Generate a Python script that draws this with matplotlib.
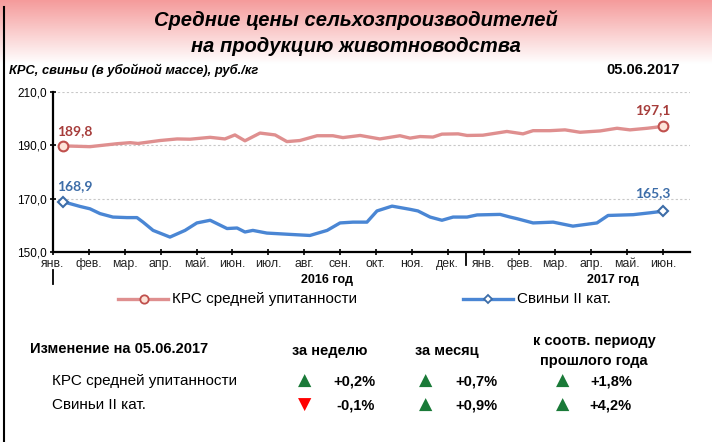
import numpy as np
import matplotlib.pyplot as plt
from matplotlib.lines import Line2D

# positions in months: 0 = янв. 2016 ... 17 = июн. 2017
krs_x = [0.27, 1.03, 1.78, 2.15, 2.37, 2.98, 3.46, 3.82, 4.38, 4.79, 5.07, 5.35, 5.77,
         6.19, 6.52, 6.88, 7.36, 7.80, 8.08, 8.56, 9.11, 9.67, 9.95, 10.23, 10.59,
         10.84, 11.29, 11.54, 11.98, 12.65, 13.10, 13.38, 13.85, 14.27, 14.69, 15.25,
         15.72, 16.08, 16.56, 17.0]
krs_y = [189.8, 189.5, 190.6, 191.0, 190.7, 191.8, 192.4, 192.3, 193.0, 192.4, 193.9,
         191.7, 194.6, 193.9, 191.4, 191.8, 193.6, 193.6, 192.9, 193.7, 192.4, 193.6,
         192.7, 193.3, 193.1, 194.2, 194.3, 193.7, 193.8, 195.2, 194.3, 195.5, 195.5,
         195.8, 194.9, 195.4, 196.4, 195.8, 196.4, 197.1]

pig_x = [0.27, 0.75, 1.03, 1.31, 1.67, 2.06, 2.34, 2.51, 2.79, 3.26, 3.68, 4.01, 4.38,
         4.85, 5.13, 5.35, 5.57, 5.96, 6.61, 7.16, 7.64, 8.00, 8.36, 8.75, 9.03, 9.45,
         9.95, 10.17, 10.51, 10.84, 11.15, 11.54, 11.82, 12.46, 12.74, 12.93, 13.38,
         13.94, 14.49, 15.16, 15.47, 16.17, 16.64, 17.0]
pig_y = [168.9, 167.1, 166.2, 164.4, 163.1, 162.9, 162.9, 161.2, 158.1, 155.6, 158.1,
         160.9, 161.9, 158.8, 159.0, 157.5, 158.1, 157.1, 156.6, 156.2, 158.1, 160.9,
         161.2, 161.2, 165.4, 167.2, 166.0, 165.4, 163.1, 161.9, 163.1, 163.1, 163.9,
         164.1, 163.1, 162.5, 160.9, 161.2, 159.7, 160.9, 163.7, 164.0, 164.7, 165.3]

month_labels = ["янв.", "фев.", "мар.", "апр.", "май.", "июн.", "июл.", "авг.", "сен.",
                "окт.", "ноя.", "дек.", "янв.", "фев.", "мар.", "апр.", "май.", "июн."]
y_ticks = [150, 170, 190, 210]

series_names = ["КРС средней упитанности", "Свиньи II кат."]
change_cols = ["за неделю", "за месяц", "к соотв. периоду\nпрошлого года"]
changes = [[0.2, 0.7, 1.8],
           [-0.1, 0.9, 4.2]]

W, H = 712, 442
red_line = '#df8f8f'
red_dark = '#a63c3a'
blue_line = '#4a86d4'
blue_dark = '#3d6da8'

plt.rcParams['font.family'] = ['Liberation Sans', 'DejaVu Sans']

fig = plt.figure(figsize=(W / 100, H / 100), dpi=100)


def fx(x):
    return x / W


def fy(y):
    return 1 - y / H


# pink gradient band behind the title
bg = fig.add_axes([0, fy(64), 1, 64 / H], zorder=0)
grad = np.linspace(0, 1, 100)[:, None]
c_top = np.array([245, 155, 155]) / 255
c_bot = np.array([1.0, 1.0, 1.0])
img = c_top[None, None, :] * (1 - grad[:, :, None]) + c_bot[None, None, :] * grad[:, :, None]
bg.imshow(img, aspect='auto', extent=[0, 1, 0, 1])
bg.axis('off')

fig.add_artist(Line2D([fx(4), fx(4)], [fy(7), 0], color='black', lw=1.5))

fig.text(0.5, fy(20), "Средние цены сельхозпроизводителей", ha='center', va='center',
         fontsize=14.5, fontweight='bold', fontstyle='italic')
fig.text(0.5, fy(46), "на продукцию животноводства", ha='center', va='center',
         fontsize=14.5, fontweight='bold', fontstyle='italic')
fig.text(fx(9), fy(70), "КРС, свиньи (в убойной массе), руб./кг", ha='left', va='center',
         fontsize=9.3, fontweight='bold', fontstyle='italic')
fig.text(fx(680), fy(70), "05.06.2017", ha='right', va='center', fontsize=10.5,
         fontweight='bold')

# chart
ax = fig.add_axes([fx(53), fy(252), fx(690) - fx(53), (252 - 92) / H], zorder=2)
ax.set_xlim(0, (690 - 53) / 35.88)
ax.set_ylim(150, 210)
ax.patch.set_alpha(0)

ax.plot(krs_x, krs_y, color=red_line, lw=2.4, solid_capstyle='round', zorder=3)
ax.plot(pig_x, pig_y, color=blue_line, lw=2.4, solid_capstyle='round', zorder=3)
for xs, ys, mk, ec, fc in [(krs_x, krs_y, 'o', '#c0504d', '#fde3d8'),
                           (pig_x, pig_y, 'D', '#3d6da8', 'white')]:
    ax.plot([xs[0], xs[-1]], [ys[0], ys[-1]], ls='none', marker=mk, ms=7 if mk == 'o' else 5.5,
            mec=ec, mfc=fc, mew=1.5, zorder=4)

lbl = dict(fontsize=10, fontweight='bold', family=['Lato', 'DejaVu Sans'],
           ha='center', va='center', textcoords='offset pixels')
ax.annotate("189,8", (krs_x[0], krs_y[0]), xytext=(12, 15), color=red_dark, **lbl)
ax.annotate("197,1", (krs_x[-1], krs_y[-1]), xytext=(-10, 16), color=red_dark, **lbl)
ax.annotate("168,9", (pig_x[0], pig_y[0]), xytext=(12, 16), color=blue_dark, **lbl)
ax.annotate("165,3", (pig_x[-1], pig_y[-1]), xytext=(-10, 18), color=blue_dark, **lbl)

ax.set_yticks(y_ticks)
ax.set_yticklabels([f"{v:.1f}".replace('.', ',') for v in y_ticks], fontsize=8.5)
ax.set_xticks(range(len(month_labels)))
ax.set_xticklabels(month_labels, fontsize=8.8, color='#222222')
ax.tick_params(axis='both', direction='inout', length=5, width=1.2, pad=2)
for g in y_ticks[1:]:
    ax.axhline(g, color='#c8c8c8', lw=0.8, ls=(0, (2, 2)), zorder=1)
for s in ['top', 'right']:
    ax.spines[s].set_visible(False)
for s in ['left', 'bottom']:
    ax.spines[s].set_linewidth(1.6)

# year separators and labels
trans = ax.get_xaxis_transform()
ax.add_artist(Line2D([0, 0], [-(270 - 252) / 160, -(284 - 252) / 160],
                     transform=trans, color='black', lw=1.3, clip_on=False))
ax.add_artist(Line2D([11.5, 11.5], [0, -(265 - 252) / 160],
                     transform=trans, color='black', lw=1.3, clip_on=False))
ax.text(7.65, -(280 - 252) / 160, "2016 год", transform=trans, ha='center', va='center',
        fontsize=9, fontweight='bold')
ax.text(15.6, -(280 - 252) / 160, "2017 год", transform=trans, ha='center', va='center',
        fontsize=9, fontweight='bold')

# legend
for (x0, x1, xm), mk, ec, fc, lc, name in [((118, 168, 144), 'o', '#c0504d', '#fde3d8', red_line, series_names[0]),
                                          ((463, 513, 488), 'D', '#3d6da8', 'white', blue_line, series_names[1])]:
    fig.add_artist(Line2D([fx(x0), fx(x1)], [fy(299), fy(299)], color=lc, lw=2.4))
    fig.add_artist(Line2D([fx(xm)], [fy(299)], marker=mk, ms=6 if mk == 'o' else 4.5,
                          mec=ec, mfc=fc, mew=1.3))
    fig.text(fx(x1 + 4), fy(299), name, ha='left', va='center', fontsize=11)

# change table
fig.text(fx(30), fy(349), "Изменение на 05.06.2017", ha='left', va='center',
         fontsize=10.5, fontweight='bold')
col_centers = [330, 447, 594]
col_arrow = [305, 426, 563]
col_right = [375, 498, 632]
fig.text(fx(col_centers[0]), fy(351), change_cols[0], ha='center', va='center',
         fontsize=10.5, fontweight='bold')
fig.text(fx(col_centers[1]), fy(351), change_cols[1], ha='center', va='center',
         fontsize=10.5, fontweight='bold')
fig.text(fx(col_centers[2]), fy(351), change_cols[2], ha='center', va='center',
         fontsize=10.5, fontweight='bold', linespacing=1.6)
row_y = [381, 405]
for i, name in enumerate(series_names):
    fig.text(fx(52), fy(row_y[i]), name, ha='left', va='center', fontsize=11)
    for j, v in enumerate(changes[i]):
        up = v >= 0
        fig.text(fx(col_arrow[j]), fy(row_y[i]), "▲" if up else "▼", ha='center', va='center',
                 fontsize=12.5, color='#1a7a38' if up else '#ff0000', family='DejaVu Sans')
        fig.text(fx(col_right[j]), fy(row_y[i]), f"{v:+.1f}%".replace('.', ','),
                 ha='right', va='center', fontsize=10.5, fontweight='bold')

fig.savefig('out.png', dpi=100)
